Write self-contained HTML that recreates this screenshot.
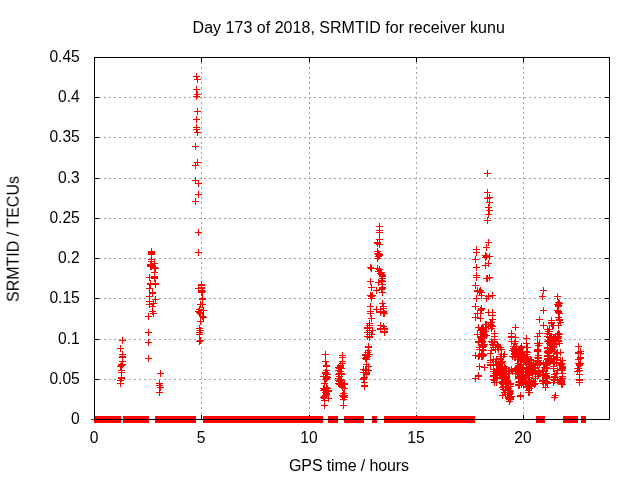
<!DOCTYPE html>
<html><head><meta charset="utf-8"><title>plot</title><style>html,body{margin:0;padding:0;background:#fff}svg{display:block}text{font-family:"Liberation Sans",sans-serif;font-size:16px;fill:#000}</style></head><body>
<svg width="640" height="480" viewBox="0 0 640 480">
<rect width="640" height="480" fill="#fff"/>
<g shape-rendering="crispEdges" stroke="#000" stroke-width="1" fill="none">
<path d="M99 379.5H609M99 339.5H609M99 298.5H609M99 258.5H609M99 218.5H609M99 178.5H609M99 137.5H609M99 97.5H609M201.5 57V415M309.5 57V415M416.5 57V415M523.5 57V415" stroke="#a0a0a0" stroke-dasharray="2 3"/>
<path d="M94 379.5h5M610 379.5h-5M94 339.5h5M610 339.5h-5M94 298.5h5M610 298.5h-5M94 258.5h5M610 258.5h-5M94 218.5h5M610 218.5h-5M94 178.5h5M610 178.5h-5M94 137.5h5M610 137.5h-5M94 97.5h5M610 97.5h-5M201.5 420v-5M201.5 57v5M309.5 420v-5M309.5 57v5M416.5 420v-5M416.5 57v5M523.5 420v-5M523.5 57v5"/>
</g>
<g shape-rendering="crispEdges" fill="#f00">
<rect x="91" y="419" width="7" height="1"/>
<rect x="94" y="416" width="27" height="7"/>
<rect x="123" y="416" width="26" height="7"/>
<rect x="155" y="416" width="41" height="7"/>
<rect x="203" y="416" width="120" height="7"/>
<rect x="328" y="416" width="10" height="7"/>
<rect x="344" y="416" width="20" height="7"/>
<rect x="372" y="416" width="5" height="7"/>
<rect x="384" y="416" width="91" height="7"/>
<rect x="536" y="416" width="9" height="7"/>
<rect x="563" y="416" width="15" height="7"/>
<rect x="581" y="416" width="5" height="7"/>
<path d="M117 348.5h7M120.5 345v7M117 366.5h7M120.5 363v7M117 380.5h7M120.5 377v7M117 383.5h7M120.5 380v7M118 364.5h7M121.5 361v7M118 365.5h7M121.5 362v7M118 370.5h7M121.5 367v7M118 372.5h7M121.5 369v7M118 377.5h7M121.5 374v7M118 378.5h7M121.5 375v7M119 340.5h7M122.5 337v7M119 354.5h7M122.5 351v7M119 356.5h7M122.5 353v7M119 357.5h7M122.5 354v7M119 361.5h7M122.5 358v7M119 364.5h7M122.5 361v7M145 316.5h7M148.5 313v7M145 332.5h7M148.5 329v7M145 342.5h7M148.5 339v7M145 358.5h7M148.5 355v7M146 277.5h7M149.5 274v7M146 288.5h7M149.5 285v7M146 296.5h7M149.5 293v7M146 301.5h7M149.5 298v7M146 304.5h7M149.5 301v7M147 264.5h7M150.5 261v7M147 265.5h7M150.5 262v7M147 266.5h7M150.5 263v7M147 283.5h7M150.5 280v7M147 284.5h7M150.5 281v7M148 251.5h7M151.5 248v7M148 252.5h7M151.5 249v7M148 253.5h7M151.5 250v7M148 254.5h7M151.5 251v7M148 259.5h7M151.5 256v7M148 261.5h7M151.5 258v7M148 264.5h7M151.5 261v7M148 265.5h7M151.5 262v7M148 266.5h7M151.5 263v7M149 292.5h7M152.5 289v7M149 293.5h7M152.5 290v7M149 306.5h7M152.5 303v7M149 311.5h7M152.5 308v7M150 303.5h7M153.5 300v7M150 313.5h7M153.5 310v7M151 263.5h7M154.5 260v7M151 267.5h7M154.5 264v7M151 272.5h7M154.5 269v7M151 276.5h7M154.5 273v7M151 277.5h7M154.5 274v7M151 278.5h7M154.5 275v7M152 268.5h7M155.5 265v7M152 283.5h7M155.5 280v7M152 284.5h7M155.5 281v7M152 299.5h7M155.5 296v7M156 383.5h7M159.5 380v7M156 385.5h7M159.5 382v7M156 392.5h7M159.5 389v7M157 373.5h7M160.5 370v7M157 387.5h7M160.5 384v7M192 146.5h7M195.5 143v7M192 165.5h7M195.5 162v7M192 180.5h7M195.5 177v7M192 201.5h7M195.5 198v7M193 76.5h7M196.5 73v7M193 89.5h7M196.5 86v7M193 96.5h7M196.5 93v7M193 119.5h7M196.5 116v7M193 127.5h7M196.5 124v7M193 129.5h7M196.5 126v7M194 79.5h7M197.5 76v7M194 94.5h7M197.5 91v7M194 111.5h7M197.5 108v7M194 132.5h7M197.5 129v7M194 162.5h7M197.5 159v7M195 183.5h7M198.5 180v7M195 194.5h7M198.5 191v7M195 232.5h7M198.5 229v7M195 252.5h7M198.5 249v7M195 288.5h7M198.5 285v7M195 311.5h7M198.5 308v7M196 309.5h7M199.5 306v7M196 312.5h7M199.5 309v7M196 328.5h7M199.5 325v7M196 332.5h7M199.5 329v7M196 334.5h7M199.5 331v7M196 341.5h7M199.5 338v7M197 304.5h7M200.5 301v7M197 313.5h7M200.5 310v7M197 321.5h7M200.5 318v7M197 330.5h7M200.5 327v7M197 340.5h7M200.5 337v7M198 284.5h7M201.5 281v7M198 285.5h7M201.5 282v7M198 287.5h7M201.5 284v7M198 288.5h7M201.5 285v7M198 290.5h7M201.5 287v7M198 292.5h7M201.5 289v7M199 291.5h7M202.5 288v7M199 298.5h7M202.5 295v7M199 299.5h7M202.5 296v7M199 304.5h7M202.5 301v7M199 316.5h7M202.5 313v7M200 310.5h7M203.5 307v7M200 317.5h7M203.5 314v7M320 376.5h7M323.5 373v7M320 388.5h7M323.5 385v7M320 390.5h7M323.5 387v7M320 397.5h7M323.5 394v7M321 383.5h7M324.5 380v7M321 389.5h7M324.5 386v7M321 396.5h7M324.5 393v7M321 398.5h7M324.5 395v7M321 400.5h7M324.5 397v7M321 405.5h7M324.5 402v7M322 354.5h7M325.5 351v7M322 361.5h7M325.5 358v7M322 372.5h7M325.5 369v7M322 373.5h7M325.5 370v7M322 379.5h7M325.5 376v7M322 392.5h7M325.5 389v7M322 395.5h7M325.5 392v7M323 365.5h7M326.5 362v7M323 366.5h7M326.5 363v7M323 370.5h7M326.5 367v7M323 376.5h7M326.5 373v7M323 378.5h7M326.5 375v7M323 387.5h7M326.5 384v7M323 393.5h7M326.5 390v7M323 394.5h7M326.5 391v7M324 374.5h7M327.5 371v7M324 377.5h7M327.5 374v7M324 388.5h7M327.5 385v7M325 390.5h7M328.5 387v7M325 391.5h7M328.5 388v7M325 398.5h7M328.5 395v7M335 367.5h7M338.5 364v7M335 370.5h7M338.5 367v7M335 374.5h7M338.5 371v7M335 378.5h7M338.5 375v7M335 380.5h7M338.5 377v7M335 383.5h7M338.5 380v7M336 368.5h7M339.5 365v7M336 373.5h7M339.5 370v7M336 376.5h7M339.5 373v7M336 381.5h7M339.5 378v7M336 384.5h7M339.5 381v7M337 365.5h7M340.5 362v7M337 366.5h7M340.5 363v7M337 367.5h7M340.5 364v7M337 371.5h7M340.5 368v7M337 379.5h7M340.5 376v7M338 368.5h7M341.5 365v7M338 373.5h7M341.5 370v7M338 374.5h7M341.5 371v7M338 380.5h7M341.5 377v7M338 382.5h7M341.5 379v7M338 385.5h7M341.5 382v7M339 355.5h7M342.5 352v7M339 357.5h7M342.5 354v7M339 361.5h7M342.5 358v7M339 363.5h7M342.5 360v7M339 386.5h7M342.5 383v7M339 387.5h7M342.5 384v7M339 395.5h7M342.5 392v7M340 393.5h7M343.5 390v7M340 396.5h7M343.5 393v7M340 399.5h7M343.5 396v7M340 405.5h7M343.5 402v7M341 383.5h7M344.5 380v7M341 384.5h7M344.5 381v7M341 388.5h7M344.5 385v7M341 395.5h7M344.5 392v7M341 397.5h7M344.5 394v7M360 369.5h7M363.5 366v7M360 372.5h7M363.5 369v7M360 378.5h7M363.5 375v7M360 379.5h7M363.5 376v7M361 377.5h7M364.5 374v7M361 382.5h7M364.5 379v7M361 385.5h7M364.5 382v7M361 386.5h7M364.5 383v7M362 354.5h7M365.5 351v7M362 355.5h7M365.5 352v7M362 358.5h7M365.5 355v7M362 370.5h7M365.5 367v7M363 357.5h7M366.5 354v7M363 359.5h7M366.5 356v7M363 364.5h7M366.5 361v7M363 369.5h7M366.5 366v7M363 372.5h7M366.5 369v7M363 373.5h7M366.5 370v7M363 374.5h7M366.5 371v7M364 327.5h7M367.5 324v7M364 328.5h7M367.5 325v7M364 332.5h7M367.5 329v7M364 336.5h7M367.5 333v7M364 352.5h7M367.5 349v7M364 356.5h7M367.5 353v7M365 346.5h7M368.5 343v7M365 347.5h7M368.5 344v7M365 350.5h7M368.5 347v7M365 366.5h7M368.5 363v7M365 370.5h7M368.5 367v7M366 323.5h7M369.5 320v7M366 325.5h7M369.5 322v7M366 327.5h7M369.5 324v7M366 330.5h7M369.5 327v7M366 332.5h7M369.5 329v7M366 334.5h7M369.5 331v7M366 336.5h7M369.5 333v7M366 337.5h7M369.5 334v7M366 354.5h7M369.5 351v7M367 267.5h7M370.5 264v7M367 281.5h7M370.5 278v7M367 295.5h7M370.5 292v7M367 306.5h7M370.5 303v7M367 311.5h7M370.5 308v7M367 313.5h7M370.5 310v7M368 268.5h7M371.5 265v7M368 287.5h7M371.5 284v7M368 296.5h7M371.5 293v7M368 298.5h7M371.5 295v7M368 318.5h7M371.5 315v7M368 334.5h7M371.5 331v7M369 295.5h7M372.5 292v7M369 330.5h7M372.5 327v7M373 290.5h7M376.5 287v7M373 309.5h7M376.5 306v7M374 242.5h7M377.5 239v7M374 243.5h7M377.5 240v7M374 251.5h7M377.5 248v7M374 253.5h7M377.5 250v7M374 258.5h7M377.5 255v7M374 268.5h7M377.5 265v7M375 253.5h7M378.5 250v7M375 254.5h7M378.5 251v7M375 256.5h7M378.5 253v7M375 271.5h7M378.5 268v7M375 282.5h7M378.5 279v7M376 226.5h7M379.5 223v7M376 230.5h7M379.5 227v7M376 232.5h7M379.5 229v7M376 239.5h7M379.5 236v7M376 244.5h7M379.5 241v7M376 254.5h7M379.5 251v7M376 255.5h7M379.5 252v7M376 269.5h7M379.5 266v7M377 273.5h7M380.5 270v7M377 309.5h7M380.5 306v7M377 311.5h7M380.5 308v7M377 312.5h7M380.5 309v7M377 325.5h7M380.5 322v7M377 328.5h7M380.5 325v7M377 329.5h7M380.5 326v7M378 272.5h7M381.5 269v7M378 274.5h7M381.5 271v7M378 280.5h7M381.5 277v7M378 289.5h7M381.5 286v7M379 275.5h7M382.5 272v7M379 276.5h7M382.5 273v7M379 278.5h7M382.5 275v7M379 281.5h7M382.5 278v7M379 284.5h7M382.5 281v7M379 287.5h7M382.5 284v7M379 288.5h7M382.5 285v7M379 292.5h7M382.5 289v7M379 303.5h7M382.5 300v7M380 306.5h7M383.5 303v7M380 308.5h7M383.5 305v7M380 311.5h7M383.5 308v7M380 312.5h7M383.5 309v7M380 313.5h7M383.5 310v7M380 326.5h7M383.5 323v7M381 313.5h7M384.5 310v7M381 328.5h7M384.5 325v7M381 329.5h7M384.5 326v7M381 331.5h7M384.5 328v7M381 332.5h7M384.5 329v7M472 259.5h7M475.5 256v7M472 285.5h7M475.5 282v7M472 306.5h7M475.5 303v7M472 317.5h7M475.5 314v7M472 355.5h7M475.5 352v7M472 378.5h7M475.5 375v7M473 249.5h7M476.5 246v7M473 252.5h7M476.5 249v7M473 267.5h7M476.5 264v7M473 275.5h7M476.5 272v7M473 277.5h7M476.5 274v7M473 298.5h7M476.5 295v7M474 290.5h7M477.5 287v7M474 291.5h7M477.5 288v7M474 313.5h7M477.5 310v7M474 334.5h7M477.5 331v7M475 327.5h7M478.5 324v7M475 341.5h7M478.5 338v7M475 342.5h7M478.5 339v7M475 356.5h7M478.5 353v7M475 375.5h7M478.5 372v7M475 376.5h7M478.5 373v7M476 291.5h7M479.5 288v7M476 347.5h7M479.5 344v7M476 349.5h7M479.5 346v7M476 355.5h7M479.5 352v7M476 366.5h7M479.5 363v7M477 290.5h7M480.5 287v7M477 310.5h7M480.5 307v7M477 313.5h7M480.5 310v7M477 318.5h7M480.5 315v7M477 330.5h7M480.5 327v7M477 336.5h7M480.5 333v7M477 337.5h7M480.5 334v7M478 292.5h7M481.5 289v7M478 295.5h7M481.5 292v7M478 308.5h7M481.5 305v7M478 309.5h7M481.5 306v7M478 328.5h7M481.5 325v7M478 329.5h7M481.5 326v7M478 334.5h7M481.5 331v7M478 338.5h7M481.5 335v7M478 339.5h7M481.5 336v7M478 340.5h7M481.5 337v7M478 344.5h7M481.5 341v7M478 353.5h7M481.5 350v7M478 354.5h7M481.5 351v7M478 356.5h7M481.5 353v7M479 327.5h7M482.5 324v7M479 332.5h7M482.5 329v7M479 337.5h7M482.5 334v7M479 341.5h7M482.5 338v7M479 342.5h7M482.5 339v7M479 345.5h7M482.5 342v7M479 346.5h7M482.5 343v7M479 347.5h7M482.5 344v7M479 349.5h7M482.5 346v7M479 356.5h7M482.5 353v7M480 328.5h7M483.5 325v7M480 329.5h7M483.5 326v7M480 330.5h7M483.5 327v7M480 345.5h7M483.5 342v7M480 346.5h7M483.5 343v7M480 350.5h7M483.5 347v7M480 354.5h7M483.5 351v7M480 355.5h7M483.5 352v7M481 334.5h7M484.5 331v7M481 336.5h7M484.5 333v7M481 344.5h7M484.5 341v7M481 367.5h7M484.5 364v7M482 255.5h7M485.5 252v7M482 257.5h7M485.5 254v7M482 265.5h7M485.5 262v7M482 324.5h7M485.5 321v7M482 327.5h7M485.5 324v7M482 331.5h7M485.5 328v7M483 247.5h7M486.5 244v7M483 256.5h7M486.5 253v7M483 278.5h7M486.5 275v7M483 298.5h7M486.5 295v7M483 324.5h7M486.5 321v7M483 335.5h7M486.5 332v7M484 173.5h7M487.5 170v7M484 192.5h7M487.5 189v7M484 198.5h7M487.5 195v7M484 220.5h7M487.5 217v7M484 278.5h7M487.5 275v7M485 207.5h7M488.5 204v7M485 214.5h7M488.5 211v7M485 242.5h7M488.5 239v7M485 263.5h7M488.5 260v7M485 296.5h7M488.5 293v7M485 312.5h7M488.5 309v7M485 326.5h7M488.5 323v7M486 197.5h7M489.5 194v7M486 202.5h7M489.5 199v7M486 210.5h7M489.5 207v7M486 256.5h7M489.5 253v7M486 277.5h7M489.5 274v7M487 322.5h7M490.5 319v7M487 324.5h7M490.5 321v7M487 353.5h7M490.5 350v7M487 360.5h7M490.5 357v7M487 362.5h7M490.5 359v7M487 364.5h7M490.5 361v7M487 365.5h7M490.5 362v7M488 322.5h7M491.5 319v7M488 325.5h7M491.5 322v7M488 328.5h7M491.5 325v7M488 341.5h7M491.5 338v7M488 350.5h7M491.5 347v7M489 295.5h7M492.5 292v7M489 312.5h7M492.5 309v7M489 315.5h7M492.5 312v7M489 319.5h7M492.5 316v7M489 326.5h7M492.5 323v7M489 342.5h7M492.5 339v7M489 344.5h7M492.5 341v7M490 345.5h7M493.5 342v7M490 347.5h7M493.5 344v7M490 359.5h7M493.5 356v7M490 364.5h7M493.5 361v7M490 365.5h7M493.5 362v7M490 369.5h7M493.5 366v7M490 371.5h7M493.5 368v7M490 375.5h7M493.5 372v7M490 376.5h7M493.5 373v7M490 379.5h7M493.5 376v7M491 333.5h7M494.5 330v7M491 336.5h7M494.5 333v7M491 339.5h7M494.5 336v7M491 341.5h7M494.5 338v7M491 342.5h7M494.5 339v7M491 371.5h7M494.5 368v7M491 380.5h7M494.5 377v7M491 382.5h7M494.5 379v7M492 349.5h7M495.5 346v7M492 361.5h7M495.5 358v7M492 373.5h7M495.5 370v7M493 359.5h7M496.5 356v7M493 364.5h7M496.5 361v7M493 365.5h7M496.5 362v7M493 374.5h7M496.5 371v7M493 378.5h7M496.5 375v7M493 382.5h7M496.5 379v7M494 344.5h7M497.5 341v7M494 345.5h7M497.5 342v7M494 347.5h7M497.5 344v7M494 365.5h7M497.5 362v7M494 377.5h7M497.5 374v7M495 346.5h7M498.5 343v7M495 349.5h7M498.5 346v7M495 361.5h7M498.5 358v7M495 364.5h7M498.5 361v7M495 370.5h7M498.5 367v7M496 367.5h7M499.5 364v7M496 368.5h7M499.5 365v7M496 369.5h7M499.5 366v7M496 370.5h7M499.5 367v7M496 372.5h7M499.5 369v7M496 375.5h7M499.5 372v7M497 347.5h7M500.5 344v7M497 356.5h7M500.5 353v7M497 358.5h7M500.5 355v7M497 359.5h7M500.5 356v7M497 367.5h7M500.5 364v7M497 371.5h7M500.5 368v7M497 373.5h7M500.5 370v7M497 375.5h7M500.5 372v7M498 349.5h7M501.5 346v7M498 354.5h7M501.5 351v7M498 362.5h7M501.5 359v7M498 363.5h7M501.5 360v7M498 375.5h7M501.5 372v7M498 382.5h7M501.5 379v7M499 361.5h7M502.5 358v7M499 368.5h7M502.5 365v7M499 371.5h7M502.5 368v7M499 373.5h7M502.5 370v7M499 377.5h7M502.5 374v7M499 381.5h7M502.5 378v7M499 383.5h7M502.5 380v7M499 387.5h7M502.5 384v7M499 395.5h7M502.5 392v7M500 356.5h7M503.5 353v7M500 372.5h7M503.5 369v7M500 373.5h7M503.5 370v7M500 382.5h7M503.5 379v7M500 384.5h7M503.5 381v7M500 386.5h7M503.5 383v7M500 389.5h7M503.5 386v7M501 354.5h7M504.5 351v7M501 366.5h7M504.5 363v7M501 373.5h7M504.5 370v7M501 374.5h7M504.5 371v7M501 380.5h7M504.5 377v7M501 392.5h7M504.5 389v7M502 368.5h7M505.5 365v7M502 377.5h7M505.5 374v7M502 379.5h7M505.5 376v7M502 380.5h7M505.5 377v7M502 383.5h7M505.5 380v7M502 390.5h7M505.5 387v7M502 392.5h7M505.5 389v7M502 394.5h7M505.5 391v7M503 370.5h7M506.5 367v7M503 374.5h7M506.5 371v7M503 376.5h7M506.5 373v7M503 377.5h7M506.5 374v7M503 378.5h7M506.5 375v7M503 380.5h7M506.5 377v7M503 382.5h7M506.5 379v7M503 386.5h7M506.5 383v7M504 381.5h7M507.5 378v7M504 384.5h7M507.5 381v7M504 387.5h7M507.5 384v7M504 390.5h7M507.5 387v7M504 392.5h7M507.5 389v7M504 394.5h7M507.5 391v7M505 370.5h7M508.5 367v7M505 373.5h7M508.5 370v7M505 383.5h7M508.5 380v7M505 388.5h7M508.5 385v7M505 396.5h7M508.5 393v7M505 398.5h7M508.5 395v7M506 370.5h7M509.5 367v7M506 371.5h7M509.5 368v7M506 373.5h7M509.5 370v7M506 390.5h7M509.5 387v7M506 392.5h7M509.5 389v7M506 394.5h7M509.5 391v7M506 396.5h7M509.5 393v7M506 397.5h7M509.5 394v7M506 398.5h7M509.5 395v7M506 399.5h7M509.5 396v7M506 401.5h7M509.5 398v7M507 383.5h7M510.5 380v7M507 384.5h7M510.5 381v7M507 386.5h7M510.5 383v7M507 391.5h7M510.5 388v7M507 393.5h7M510.5 390v7M507 397.5h7M510.5 394v7M507 398.5h7M510.5 395v7M507 399.5h7M510.5 396v7M508 333.5h7M511.5 330v7M508 336.5h7M511.5 333v7M508 337.5h7M511.5 334v7M508 341.5h7M511.5 338v7M508 369.5h7M511.5 366v7M508 396.5h7M511.5 393v7M509 350.5h7M512.5 347v7M509 356.5h7M512.5 353v7M509 371.5h7M512.5 368v7M510 346.5h7M513.5 343v7M510 348.5h7M513.5 345v7M511 343.5h7M514.5 340v7M511 349.5h7M514.5 346v7M511 351.5h7M514.5 348v7M511 353.5h7M514.5 350v7M511 354.5h7M514.5 351v7M511 357.5h7M514.5 354v7M512 327.5h7M515.5 324v7M512 337.5h7M515.5 334v7M512 341.5h7M515.5 338v7M512 350.5h7M515.5 347v7M512 351.5h7M515.5 348v7M512 355.5h7M515.5 352v7M512 357.5h7M515.5 354v7M512 369.5h7M515.5 366v7M512 373.5h7M515.5 370v7M513 346.5h7M516.5 343v7M513 352.5h7M516.5 349v7M513 353.5h7M516.5 350v7M513 368.5h7M516.5 365v7M513 370.5h7M516.5 367v7M513 371.5h7M516.5 368v7M514 354.5h7M517.5 351v7M514 355.5h7M517.5 352v7M514 359.5h7M517.5 356v7M514 367.5h7M517.5 364v7M514 373.5h7M517.5 370v7M515 352.5h7M518.5 349v7M515 355.5h7M518.5 352v7M515 356.5h7M518.5 353v7M515 357.5h7M518.5 354v7M515 363.5h7M518.5 360v7M515 365.5h7M518.5 362v7M515 366.5h7M518.5 363v7M515 367.5h7M518.5 364v7M515 376.5h7M518.5 373v7M515 377.5h7M518.5 374v7M515 378.5h7M518.5 375v7M515 382.5h7M518.5 379v7M515 384.5h7M518.5 381v7M515 385.5h7M518.5 382v7M516 350.5h7M519.5 347v7M516 354.5h7M519.5 351v7M516 356.5h7M519.5 353v7M516 366.5h7M519.5 363v7M516 370.5h7M519.5 367v7M516 371.5h7M519.5 368v7M516 381.5h7M519.5 378v7M516 384.5h7M519.5 381v7M516 385.5h7M519.5 382v7M517 348.5h7M520.5 345v7M517 349.5h7M520.5 346v7M517 352.5h7M520.5 349v7M517 353.5h7M520.5 350v7M517 355.5h7M520.5 352v7M517 359.5h7M520.5 356v7M517 360.5h7M520.5 357v7M517 361.5h7M520.5 358v7M517 368.5h7M520.5 365v7M517 375.5h7M520.5 372v7M517 378.5h7M520.5 375v7M517 395.5h7M520.5 392v7M517 396.5h7M520.5 393v7M518 346.5h7M521.5 343v7M518 347.5h7M521.5 344v7M518 351.5h7M521.5 348v7M518 353.5h7M521.5 350v7M518 355.5h7M521.5 352v7M518 356.5h7M521.5 353v7M518 357.5h7M521.5 354v7M518 360.5h7M521.5 357v7M518 368.5h7M521.5 365v7M518 369.5h7M521.5 366v7M518 372.5h7M521.5 369v7M518 374.5h7M521.5 371v7M518 383.5h7M521.5 380v7M518 384.5h7M521.5 381v7M519 359.5h7M522.5 356v7M519 367.5h7M522.5 364v7M519 372.5h7M522.5 369v7M519 376.5h7M522.5 373v7M519 379.5h7M522.5 376v7M519 381.5h7M522.5 378v7M520 360.5h7M523.5 357v7M520 364.5h7M523.5 361v7M520 368.5h7M523.5 365v7M520 371.5h7M523.5 368v7M520 374.5h7M523.5 371v7M520 377.5h7M523.5 374v7M520 378.5h7M523.5 375v7M520 380.5h7M523.5 377v7M520 382.5h7M523.5 379v7M520 383.5h7M523.5 380v7M522 358.5h7M525.5 355v7M522 361.5h7M525.5 358v7M522 362.5h7M525.5 359v7M522 371.5h7M525.5 368v7M522 372.5h7M525.5 369v7M522 378.5h7M525.5 375v7M522 382.5h7M525.5 379v7M522 383.5h7M525.5 380v7M523 338.5h7M526.5 335v7M523 343.5h7M526.5 340v7M523 351.5h7M526.5 348v7M523 354.5h7M526.5 351v7M523 356.5h7M526.5 353v7M523 363.5h7M526.5 360v7M523 364.5h7M526.5 361v7M523 371.5h7M526.5 368v7M523 375.5h7M526.5 372v7M523 380.5h7M526.5 377v7M523 381.5h7M526.5 378v7M523 383.5h7M526.5 380v7M523 386.5h7M526.5 383v7M523 387.5h7M526.5 384v7M524 347.5h7M527.5 344v7M524 352.5h7M527.5 349v7M524 358.5h7M527.5 355v7M524 369.5h7M527.5 366v7M524 375.5h7M527.5 372v7M524 387.5h7M527.5 384v7M525 359.5h7M528.5 356v7M525 364.5h7M528.5 361v7M525 368.5h7M528.5 365v7M525 370.5h7M528.5 367v7M525 373.5h7M528.5 370v7M525 374.5h7M528.5 371v7M525 377.5h7M528.5 374v7M525 380.5h7M528.5 377v7M525 383.5h7M528.5 380v7M525 384.5h7M528.5 381v7M525 385.5h7M528.5 382v7M525 390.5h7M528.5 387v7M525 392.5h7M528.5 389v7M526 363.5h7M529.5 360v7M526 371.5h7M529.5 368v7M526 373.5h7M529.5 370v7M526 374.5h7M529.5 371v7M526 381.5h7M529.5 378v7M526 384.5h7M529.5 381v7M526 388.5h7M529.5 385v7M526 392.5h7M529.5 389v7M527 359.5h7M530.5 356v7M527 367.5h7M530.5 364v7M527 368.5h7M530.5 365v7M527 371.5h7M530.5 368v7M527 382.5h7M530.5 379v7M527 383.5h7M530.5 380v7M528 360.5h7M531.5 357v7M528 365.5h7M531.5 362v7M528 372.5h7M531.5 369v7M528 380.5h7M531.5 377v7M528 381.5h7M531.5 378v7M528 382.5h7M531.5 379v7M528 385.5h7M531.5 382v7M528 386.5h7M531.5 383v7M529 365.5h7M532.5 362v7M529 369.5h7M532.5 366v7M529 370.5h7M532.5 367v7M529 374.5h7M532.5 371v7M530 364.5h7M533.5 361v7M530 370.5h7M533.5 367v7M530 371.5h7M533.5 368v7M530 381.5h7M533.5 378v7M531 367.5h7M534.5 364v7M531 368.5h7M534.5 365v7M531 384.5h7M534.5 381v7M532 363.5h7M535.5 360v7M532 367.5h7M535.5 364v7M532 378.5h7M535.5 375v7M532 383.5h7M535.5 380v7M534 336.5h7M537.5 333v7M534 343.5h7M537.5 340v7M534 349.5h7M537.5 346v7M534 350.5h7M537.5 347v7M534 351.5h7M537.5 348v7M534 357.5h7M537.5 354v7M534 361.5h7M537.5 358v7M534 365.5h7M537.5 362v7M534 373.5h7M537.5 370v7M534 376.5h7M537.5 373v7M535 345.5h7M538.5 342v7M535 355.5h7M538.5 352v7M535 357.5h7M538.5 354v7M535 358.5h7M538.5 355v7M535 360.5h7M538.5 357v7M535 362.5h7M538.5 359v7M535 371.5h7M538.5 368v7M535 372.5h7M538.5 369v7M535 374.5h7M538.5 371v7M536 319.5h7M539.5 316v7M536 333.5h7M539.5 330v7M536 343.5h7M539.5 340v7M536 364.5h7M539.5 361v7M536 372.5h7M539.5 369v7M539 296.5h7M542.5 293v7M539 370.5h7M542.5 367v7M539 371.5h7M542.5 368v7M539 374.5h7M542.5 371v7M539 380.5h7M542.5 377v7M539 381.5h7M542.5 378v7M540 290.5h7M543.5 287v7M540 310.5h7M543.5 307v7M540 325.5h7M543.5 322v7M540 363.5h7M543.5 360v7M540 371.5h7M543.5 368v7M540 375.5h7M543.5 372v7M540 381.5h7M543.5 378v7M540 383.5h7M543.5 380v7M541 367.5h7M544.5 364v7M542 362.5h7M545.5 359v7M542 364.5h7M545.5 361v7M542 373.5h7M545.5 370v7M542 377.5h7M545.5 374v7M542 383.5h7M545.5 380v7M542 387.5h7M545.5 384v7M543 364.5h7M546.5 361v7M543 365.5h7M546.5 362v7M543 367.5h7M546.5 364v7M543 373.5h7M546.5 370v7M543 375.5h7M546.5 372v7M543 376.5h7M546.5 373v7M543 377.5h7M546.5 374v7M543 378.5h7M546.5 375v7M543 381.5h7M546.5 378v7M543 382.5h7M546.5 379v7M544 329.5h7M547.5 326v7M544 333.5h7M547.5 330v7M544 336.5h7M547.5 333v7M544 341.5h7M547.5 338v7M544 347.5h7M547.5 344v7M544 348.5h7M547.5 345v7M544 351.5h7M547.5 348v7M544 352.5h7M547.5 349v7M544 355.5h7M547.5 352v7M544 356.5h7M547.5 353v7M544 358.5h7M547.5 355v7M544 359.5h7M547.5 356v7M544 362.5h7M547.5 359v7M544 368.5h7M547.5 365v7M544 377.5h7M547.5 374v7M544 383.5h7M547.5 380v7M545 331.5h7M548.5 328v7M545 340.5h7M548.5 337v7M545 350.5h7M548.5 347v7M545 353.5h7M548.5 350v7M545 360.5h7M548.5 357v7M545 361.5h7M548.5 358v7M546 329.5h7M549.5 326v7M546 331.5h7M549.5 328v7M546 334.5h7M549.5 331v7M546 337.5h7M549.5 334v7M546 343.5h7M549.5 340v7M546 348.5h7M549.5 345v7M546 352.5h7M549.5 349v7M546 355.5h7M549.5 352v7M546 358.5h7M549.5 355v7M546 359.5h7M549.5 356v7M546 361.5h7M549.5 358v7M546 362.5h7M549.5 359v7M547 338.5h7M550.5 335v7M547 344.5h7M550.5 341v7M547 349.5h7M550.5 346v7M547 358.5h7M550.5 355v7M547 359.5h7M550.5 356v7M547 361.5h7M550.5 358v7M548 320.5h7M551.5 317v7M548 322.5h7M551.5 319v7M548 323.5h7M551.5 320v7M548 336.5h7M551.5 333v7M548 339.5h7M551.5 336v7M548 341.5h7M551.5 338v7M548 345.5h7M551.5 342v7M548 347.5h7M551.5 344v7M548 350.5h7M551.5 347v7M548 359.5h7M551.5 356v7M548 360.5h7M551.5 357v7M549 325.5h7M552.5 322v7M549 340.5h7M552.5 337v7M549 346.5h7M552.5 343v7M549 349.5h7M552.5 346v7M550 325.5h7M553.5 322v7M550 337.5h7M553.5 334v7M550 343.5h7M553.5 340v7M550 347.5h7M553.5 344v7M550 356.5h7M553.5 353v7M550 358.5h7M553.5 355v7M550 366.5h7M553.5 363v7M550 368.5h7M553.5 365v7M550 379.5h7M553.5 376v7M550 382.5h7M553.5 379v7M551 338.5h7M554.5 335v7M551 344.5h7M554.5 341v7M551 351.5h7M554.5 348v7M551 359.5h7M554.5 356v7M551 363.5h7M554.5 360v7M551 374.5h7M554.5 371v7M551 376.5h7M554.5 373v7M551 377.5h7M554.5 374v7M551 380.5h7M554.5 377v7M551 397.5h7M554.5 394v7M552 336.5h7M555.5 333v7M552 339.5h7M555.5 336v7M552 341.5h7M555.5 338v7M552 377.5h7M555.5 374v7M552 395.5h7M555.5 392v7M553 340.5h7M556.5 337v7M553 343.5h7M556.5 340v7M553 353.5h7M556.5 350v7M553 359.5h7M556.5 356v7M553 362.5h7M556.5 359v7M553 373.5h7M556.5 370v7M554 296.5h7M557.5 293v7M554 304.5h7M557.5 301v7M554 310.5h7M557.5 307v7M554 334.5h7M557.5 331v7M554 337.5h7M557.5 334v7M554 352.5h7M557.5 349v7M554 357.5h7M557.5 354v7M554 370.5h7M557.5 367v7M554 380.5h7M557.5 377v7M555 302.5h7M558.5 299v7M555 305.5h7M558.5 302v7M555 306.5h7M558.5 303v7M555 311.5h7M558.5 308v7M555 312.5h7M558.5 309v7M555 317.5h7M558.5 314v7M555 325.5h7M558.5 322v7M555 333.5h7M558.5 330v7M555 336.5h7M558.5 333v7M555 338.5h7M558.5 335v7M555 340.5h7M558.5 337v7M555 341.5h7M558.5 338v7M556 303.5h7M559.5 300v7M556 313.5h7M559.5 310v7M556 319.5h7M559.5 316v7M556 320.5h7M559.5 317v7M556 334.5h7M559.5 331v7M556 343.5h7M559.5 340v7M557 322.5h7M560.5 319v7M557 352.5h7M560.5 349v7M557 360.5h7M560.5 357v7M557 365.5h7M560.5 362v7M557 379.5h7M560.5 376v7M557 381.5h7M560.5 378v7M558 363.5h7M561.5 360v7M558 364.5h7M561.5 361v7M558 369.5h7M561.5 366v7M558 380.5h7M561.5 377v7M558 381.5h7M561.5 378v7M558 382.5h7M561.5 379v7M558 383.5h7M561.5 380v7M558 384.5h7M561.5 381v7M559 360.5h7M562.5 357v7M559 366.5h7M562.5 363v7M559 367.5h7M562.5 364v7M559 368.5h7M562.5 365v7M559 370.5h7M562.5 367v7M559 373.5h7M562.5 370v7M559 376.5h7M562.5 373v7M559 378.5h7M562.5 375v7M559 384.5h7M562.5 381v7M574 368.5h7M577.5 365v7M574 371.5h7M577.5 368v7M575 346.5h7M578.5 343v7M575 352.5h7M578.5 349v7M575 353.5h7M578.5 350v7M575 359.5h7M578.5 356v7M575 363.5h7M578.5 360v7M575 368.5h7M578.5 365v7M576 364.5h7M579.5 361v7M576 365.5h7M579.5 362v7M576 370.5h7M579.5 367v7M576 374.5h7M579.5 371v7M576 379.5h7M579.5 376v7M576 380.5h7M579.5 377v7M576 382.5h7M579.5 379v7M577 351.5h7M580.5 348v7M577 353.5h7M580.5 350v7M577 357.5h7M580.5 354v7M577 358.5h7M580.5 355v7M577 363.5h7M580.5 360v7" stroke="#f00" stroke-width="1" fill="none"/>
</g>
<rect x="94.5" y="57.5" width="515" height="362" fill="none" stroke="#000" stroke-width="1" shape-rendering="crispEdges"/>
<g style="filter:grayscale(1)">
<text transform="translate(348.7,32.8) scale(1,0.975)" text-anchor="middle" textLength="312.25" lengthAdjust="spacing">Day 173 of 2018, SRMTID for receiver kunu</text>
<text transform="translate(349,471) scale(1,0.975)" text-anchor="middle" textLength="120" lengthAdjust="spacing">GPS time / hours</text>
<text transform="translate(18.3,239) rotate(-90) scale(1,0.975)" text-anchor="middle">SRMTID / TECUs</text>
<text transform="translate(79.8,424.2) scale(0.975,0.975)" text-anchor="end">0</text>
<text transform="translate(79.8,384.2) scale(0.975,0.975)" text-anchor="end">0.05</text>
<text transform="translate(79.8,344.2) scale(0.975,0.975)" text-anchor="end">0.1</text>
<text transform="translate(79.8,303.2) scale(0.975,0.975)" text-anchor="end">0.15</text>
<text transform="translate(79.8,263.2) scale(0.975,0.975)" text-anchor="end">0.2</text>
<text transform="translate(79.8,223.2) scale(0.975,0.975)" text-anchor="end">0.25</text>
<text transform="translate(79.8,183.2) scale(0.975,0.975)" text-anchor="end">0.3</text>
<text transform="translate(79.8,142.2) scale(0.975,0.975)" text-anchor="end">0.35</text>
<text transform="translate(79.8,102.2) scale(0.975,0.975)" text-anchor="end">0.4</text>
<text transform="translate(79.8,62.2) scale(0.975,0.975)" text-anchor="end">0.45</text>
<text transform="translate(94,443.3) scale(0.975,0.975)" text-anchor="middle">0</text>
<text transform="translate(201,443.3) scale(0.975,0.975)" text-anchor="middle">5</text>
<text transform="translate(309,443.3) scale(0.975,0.975)" text-anchor="middle">10</text>
<text transform="translate(416,443.3) scale(0.975,0.975)" text-anchor="middle">15</text>
<text transform="translate(523,443.3) scale(0.975,0.975)" text-anchor="middle">20</text>
</g>
</svg></body></html>
